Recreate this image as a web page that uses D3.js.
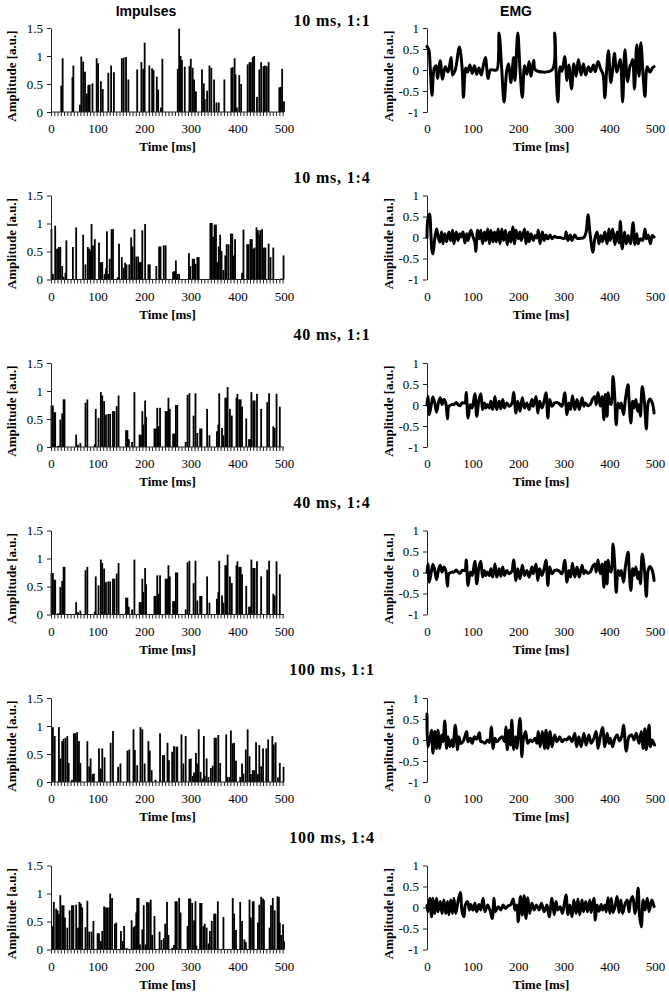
<!DOCTYPE html>
<html><head><meta charset="utf-8">
<script src="https://cdn.jsdelivr.net/npm/d3@7"></script>
<style>
html,body{margin:0;padding:0;background:#fff;}
svg{display:block;}
</style></head>
<body>
<svg id="chart" width="669" height="1000"></svg>
<script>
// ---------- DATA ----------
const rowTitles = ["10 ms, 1:1", "10 ms, 1:4", "40 ms, 1:1", "40 ms, 1:4", "100 ms, 1:1", "100 ms, 1:4"];
const columnTitles = ["Impulses", "EMG"];
const timeTicks = [0, 100, 200, 300, 400, 500];
const impTicks = [0, 0.5, 1, 1.5];
const emgTicks = [-1, -0.5, 0, 0.5, 1];
const xTitle = "Time [ms]";
const yTitle = "Amplitude [a.u.]";

// Impulses: [time ms, amplitude]
const imp10_11 = [[22,0.47],[25,0.96],[46,0.62],[48,0.83],[62,0.13],[65,0.99],[69,0.9],[73,0.72],[77,0.33],[80,0.48],[83,0.49],[89,0.51],[98,0.96],[101,0.87],[107,0.55],[111,0.41],[123,0.7],[129,0.83],[135,0.71],[152,0.96],[156,0.97],[161,0.98],[166,0.58],[185,0.76],[194,0.89],[198,0.77],[201,1.24],[211,0.83],[217,0.78],[220,0.75],[227,0.63],[230,0.4],[236,0.08],[239,0.95],[272,0.77],[275,1.49],[278,1.0],[281,0.93],[287,0.81],[297,0.82],[300,0.95],[304,0.79],[307,0.58],[311,0.37],[324,0.76],[328,0.51],[330,0.23],[335,0.38],[340,0.83],[344,0.79],[350,0.58],[355,0.17],[360,0.17],[372,0.58],[387,0.79],[390,0.8],[394,0.96],[396,0.67],[399,0.08],[404,0.66],[408,0.5],[422,0.85],[426,0.89],[429,0.89],[433,0.98],[436,1.0],[442,0.27],[447,0.76],[451,0.89],[456,0.82],[459,0.83],[463,0.82],[467,0.89],[490,0.44],[493,0.45],[496,0.77],[500,0.19]];
const imp10_14 = [[1,0.9],[4,0.1],[9,0.96],[13,0.55],[17,0.58],[20,0.58],[24,0.24],[27,0.05],[31,0.12],[33,0.7],[47,0.58],[54,0.93],[69,0.8],[74,0.27],[79,0.58],[82,0.55],[85,0.51],[87,0.99],[90,0.61],[94,0.72],[103,0.66],[107,0.31],[110,0.31],[115,0.1],[118,0.2],[120,0.86],[123,0.1],[126,0.37],[130,0.9],[133,0.9],[143,0.04],[146,0.64],[152,0.4],[156,0.21],[159,0.3],[162,0.27],[168,0.27],[172,0.75],[175,0.59],[179,0.9],[183,0.41],[187,0.41],[190,0.31],[193,0.31],[196,0.88],[202,0.99],[209,0.27],[212,0.27],[226,0.24],[232,0.59],[235,0.59],[242,0.61],[246,0.61],[262,0.14],[265,0.15],[268,0.34],[271,0.1],[275,0.1],[296,0.47],[299,0.24],[304,0.37],[307,0.37],[310,0.28],[314,0.4],[317,0.4],[342,1.01],[345,1.01],[348,0.76],[351,0.98],[354,0.98],[357,0.31],[360,0.59],[363,0.8],[366,0.51],[370,0.17],[374,0.43],[377,0.63],[381,0.63],[386,0.82],[389,0.82],[392,0.43],[395,0.72],[410,0.12],[413,0.89],[421,0.63],[424,0.63],[428,0.72],[431,0.72],[434,0.55],[437,0.57],[441,0.93],[444,0.88],[447,0.8],[449,0.88],[453,0.9],[457,0.57],[460,0.57],[467,0.64],[471,0.4],[477,0.57],[494,0.02],[499,0.43]];
const imp40 = [[1,0.74],[4,0.74],[7,0.62],[9,0.62],[15,0.02],[18,0.02],[20,0.49],[24,0.6],[27,0.85],[29,0.85],[54,0.22],[58,0.04],[63,0.07],[74,0.79],[78,0.85],[94,0.05],[96,0.68],[102,0.52],[107,0.98],[110,0.92],[114,0.82],[118,0.58],[123,0.59],[127,0.59],[133,0.64],[136,0.64],[141,0.73],[145,0.92],[161,0.3],[164,0.3],[167,0.14],[174,0.09],[179,0.98],[190,0.22],[193,0.22],[196,0.64],[198,0.4],[202,0.83],[204,0.54],[222,0.33],[225,0.33],[228,0.7],[231,0.37],[234,0.7],[246,0.64],[249,0.64],[252,0.88],[255,0.68],[262,0.24],[265,0.24],[268,0.75],[271,0.75],[289,0.09],[293,0.93],[297,0.96],[306,0.56],[310,0.96],[314,0.25],[320,0.33],[323,0.33],[335,0.68],[340,0.21],[356,0.28],[359,0.4],[361,0.96],[367,0.34],[370,0.21],[374,0.88],[376,0.88],[379,1.07],[384,0.68],[388,0.56],[398,0.88],[400,0.95],[404,0.85],[407,0.85],[410,0.72],[419,0.51],[425,0.14],[428,0.14],[430,0.98],[434,0.83],[437,0.83],[442,0.95],[451,0.68],[464,0.8],[468,0.96],[477,0.37],[480,0.34],[484,0.95],[491,0.72]];
const imp100_11 = [[4,0.98],[8,0.82],[17,0.98],[20,0.42],[24,0.73],[27,0.77],[31,0.79],[35,0.82],[38,0.34],[45,0.04],[49,0.87],[52,0.87],[56,0.89],[60,0.73],[63,0.34],[78,0.73],[82,0.28],[85,0.42],[89,0.14],[92,0.15],[103,0.6],[107,0.24],[110,0.6],[115,0.44],[128,0.7],[133,0.91],[144,0.27],[149,0.33],[164,0.56],[168,0.58],[177,0.94],[180,0.57],[185,0.3],[192,0.98],[196,0.94],[201,0.33],[209,0.73],[212,0.56],[216,0.21],[224,0.04],[234,0.87],[240,0.48],[243,0.48],[250,0.7],[253,0.39],[260,0.54],[264,0.64],[269,0.63],[271,0.63],[280,0.85],[284,0.33],[289,0.82],[297,0.41],[300,0.42],[304,0.11],[307,0.17],[311,0.52],[314,0.33],[317,0.94],[321,0.18],[325,0.06],[328,0.82],[330,0.11],[334,0.42],[338,0.09],[343,0.25],[347,0.29],[351,0.79],[354,0.79],[359,0.84],[363,0.34],[376,0.85],[379,0.09],[383,0.09],[386,0.92],[390,0.69],[393,0.7],[397,0.38],[406,0.09],[410,0.33],[413,0.15],[418,0.58],[422,0.94],[426,0.46],[429,0.14],[433,0.21],[436,0.21],[440,0.71],[444,0.14],[447,0.66],[451,0.28],[455,0.6],[462,0.6],[466,0.76],[475,0.82],[478,0.67],[482,0.71],[487,0.08],[491,0.34],[499,0.27]];
const imp100_14 = [[4,0.42],[6,0.85],[11,0.73],[14,0.7],[17,0.64],[20,0.97],[24,0.79],[27,0.79],[30,0.57],[35,0.39],[40,0.7],[45,0.79],[48,0.79],[54,0.8],[58,0.39],[61,0.85],[64,0.82],[67,0.75],[74,0.4],[78,0.87],[82,0.32],[87,0.32],[91,0.51],[100,0.29],[103,0.29],[107,0.15],[110,0.33],[114,0.77],[118,0.75],[121,0.75],[125,0.75],[127,1.0],[131,0.92],[137,0.46],[140,0.48],[150,0.33],[154,0.15],[157,0.42],[161,0.02],[164,0.02],[173,0.52],[177,0.4],[180,0.42],[183,0.66],[185,0.92],[188,0.92],[191,0.09],[196,0.36],[199,0.79],[203,0.09],[206,0.85],[210,0.84],[214,0.89],[217,0.26],[222,0.6],[233,0.32],[237,0.17],[242,0.2],[245,0.46],[249,0.85],[252,0.26],[260,0.03],[264,0.08],[267,0.86],[270,0.86],[275,0.92],[278,0.66],[293,0.42],[296,0.91],[299,0.91],[303,0.83],[307,0.52],[310,0.86],[312,0.07],[320,0.83],[323,0.83],[327,0.42],[330,0.46],[334,0.39],[338,0.11],[341,0.33],[345,0.51],[350,0.64],[353,0.64],[358,0.86],[370,0.58],[390,0.92],[393,0.64],[397,0.35],[406,0.85],[410,0.51],[415,0.18],[418,0.13],[426,0.89],[429,0.57],[433,0.86],[435,0.86],[444,0.48],[447,0.8],[451,0.94],[455,0.91],[457,0.88],[469,0.39],[472,0.79],[476,0.92],[480,0.7],[486,0.95],[489,0.94],[491,0.48],[494,0.26],[498,0.45],[500,0.15]];

// EMG: [time ms, amplitude]
const emg10_11 = [[0,0.56],[4,0.48],[7,0.08],[11,-0.6],[16,0.05],[20,0.1],[23,-0.2],[29,0.22],[34,-0.22],[40,0.08],[46,-0.05],[53,0.3],[56,-0.12],[61,-0.03],[64,0.1],[71,0.55],[77,0.05],[80,-0.65],[85,0.05],[89,-0.05],[94,0.12],[99,-0.08],[104,0.1],[109,-0.1],[114,0.05],[119,-0.12],[123,0.08],[128,0.3],[134,-0.2],[139,0.0],[146,0.0],[153,0.0],[158,0.88],[164,0.0],[169,-0.76],[175,0.0],[179,0.15],[184,-0.3],[190,0.3],[193,-0.25],[199,0.88],[204,0.0],[209,-0.65],[214,0.1],[219,-0.1],[224,0.2],[228,-0.15],[234,0.23],[238,0],[274,0],[280,0.88],[283,0],[287,-0.76],[292,0.08],[296,-0.03],[302,0.32],[307,-0.25],[311,0.12],[317,-0.45],[322,0.15],[327,-0.15],[332,0.25],[338,-0.12],[343,0.15],[348,-0.12],[354,0.08],[359,-0.04],[365,0.12],[369,-0.04],[375,0.2],[381,0.02],[386,-0.1],[390,-0.66],[394,0.0],[398,0.46],[403,-0.3],[408,0.1],[411,0.4],[416,-0.05],[420,0.1],[424,0.25],[429,-0.76],[434,0.48],[440,-0.28],[445,0.08],[448,0.15],[451,0.25],[455,-0.45],[460,0.6],[465,-0.15],[469,0.65],[474,-0.15],[478,-0.63],[483,0.08],[489,-0.05],[494,0.04],[498,0.08]];
const emg10_14 = [[0,0],[2,0.44],[6,0.56],[8,0.2],[11,-0.31],[13,-0.39],[17,-0.03],[21,0.2],[24,0.05],[28,-0.11],[32,0.13],[35,-0.15],[39,0.09],[43,-0.1],[48,0.13],[52,-0.07],[56,0.17],[59,-0.15],[64,0.13],[68,-0.07],[72,0.09],[75,0.01],[79,0.13],[83,-0.13],[87,0.09],[90,-0.07],[96,0.17],[101,0.01],[105,-0.11],[107,-0.33],[111,0.17],[115,-0.03],[118,0.17],[122,-0.15],[126,0.13],[129,-0.07],[133,0.2],[137,-0.15],[140,0.17],[145,-0.11],[148,0.13],[152,-0.1],[156,0.2],[160,-0.15],[164,0.2],[168,-0.07],[172,0.17],[176,-0.17],[181,0.13],[184,-0.11],[188,0.25],[192,-0.15],[195,0.17],[200,-0.03],[204,0.13],[207,-0.07],[214,0.2],[217,-0.15],[221,0.13],[224,-0.1],[228,0.09],[233,-0.07],[237,0.05],[241,-0.01],[244,0.17],[248,-0.15],[253,0.13],[257,-0.07],[261,0.06],[265,-0.03],[270,0.06],[274,-0.03],[280,0.03],[285,0.0],[292,0.0],[302,-0.02],[305,0.13],[309,-0.07],[314,0.06],[318,-0.07],[324,0.06],[329,-0.02],[336,-0.02],[344,0.0],[349,0.13],[353,0.54],[358,0.05],[364,-0.35],[368,-0.03],[373,0.13],[377,-0.15],[381,0.05],[385,-0.1],[390,0.13],[395,-0.15],[399,0.2],[402,-0.07],[407,0.2],[412,-0.17],[417,0.13],[421,-0.13],[424,0.38],[428,-0.27],[433,0.13],[437,-0.15],[441,0.05],[446,-0.15],[452,0.35],[456,-0.17],[460,0.09],[463,-0.15],[468,-0.03],[473,-0.07],[478,0.2],[481,-0.03],[485,0.06],[490,-0.15],[494,0.05],[498,0.01]];
const emg40 = [[0,0],[2,0.2],[5,-0.23],[10,0.05],[13,0.19],[17,0.05],[21,-0.17],[25,0.05],[29,0.17],[33,0.01],[37,0.13],[41,0.05],[45,-0.33],[48,-0.03],[54,0.01],[59,0.01],[64,0.06],[68,0.01],[72,-0.02],[77,0.05],[83,0.05],[86,0.3],[90,-0.31],[95,0.01],[99,-0.07],[105,0.27],[109,-0.27],[114,0.13],[118,0.27],[122,-0.11],[126,0.05],[129,-0.07],[133,0.01],[137,-0.07],[140,0.09],[144,-0.11],[149,0.2],[153,-0.11],[158,0.09],[162,-0.09],[166,0.13],[170,-0.07],[175,0.05],[180,-0.03],[186,0.03],[190,0.3],[195,-0.19],[199,0.09],[204,-0.15],[209,0.17],[214,-0.07],[219,0.05],[224,-0.11],[230,0.13],[233,-0.03],[239,0.2],[243,-0.19],[247,0.09],[252,-0.07],[256,0.05],[261,0.29],[265,-0.31],[269,0.13],[274,-0.03],[280,0.05],[285,0.06],[290,0.03],[296,-0.03],[302,0.29],[307,-0.23],[311,0.05],[315,-0.11],[319,0.22],[324,-0.11],[329,0.13],[334,-0.11],[340,0.17],[344,-0.03],[347,0.05],[353,-0.02],[358,0.01],[363,0.14],[368,0.2],[371,0.01],[375,0.3],[380,-0.03],[384,0.2],[388,-0.35],[391,0.25],[395,-0.27],[397,0.29],[401,0.05],[404,0.01],[408,0.68],[412,0.13],[415,-0.47],[419,0.05],[423,-0.07],[426,0.05],[431,-0.23],[435,0.13],[441,0.48],[443,0.13],[447,-0.43],[451,0.09],[454,-0.07],[458,0.13],[462,-0.15],[465,0.01],[468,-0.27],[472,0.44],[477,0.05],[481,-0.57],[485,0.05],[489,0.14],[494,0.05],[498,-0.19]];
const emg100_11 = [[0,0.62],[2,-0.16],[6,0.0],[10,0.23],[13,-0.31],[17,0.2],[21,-0.2],[24,0.23],[28,-0.2],[32,0.12],[35,-0.04],[39,0.45],[43,-0.2],[46,0.08],[50,-0.16],[54,0.0],[57,-0.16],[62,0.35],[67,-0.23],[70,0.08],[74,-0.08],[79,-0.04],[83,0.08],[87,0.2],[90,-0.04],[95,0.04],[99,-0.08],[104,0.08],[109,0.02],[115,0.17],[118,-0.04],[122,-0.04],[127,-0.08],[133,0.0],[137,-0.06],[141,0.31],[145,-0.2],[149,0.04],[153,-0.04],[160,0.04],[165,0.08],[170,-0.04],[173,0.31],[176,-0.23],[180,0.23],[183,-0.12],[186,0.47],[190,-0.23],[194,0.08],[197,-0.2],[204,0.51],[208,-0.4],[211,0.0],[216,0.2],[221,-0.08],[226,0.0],[231,-0.04],[237,0.04],[241,-0.08],[244,0.2],[248,-0.16],[253,0.2],[258,-0.2],[261,0.23],[265,-0.2],[270,0.2],[274,-0.16],[280,0.12],[285,-0.04],[291,0.08],[296,-0.04],[302,0.02],[307,0.0],[312,0.08],[318,-0.04],[324,0.16],[328,-0.16],[333,0.08],[338,-0.16],[344,0.16],[349,-0.12],[355,0.12],[360,-0.08],[366,0.04],[371,0.2],[375,-0.2],[380,0.08],[385,0.3],[390,-0.16],[395,0.16],[399,-0.08],[402,0.04],[407,-0.16],[412,0.04],[417,0.12],[422,-0.02],[427,0.08],[431,0.35],[437,-0.27],[443,0.08],[449,0.12],[454,0.0],[459,0.16],[465,-0.08],[470,0.2],[474,-0.2],[478,0.27],[481,-0.23],[487,0.35],[490,-0.16],[494,0.0],[499,-0.12]];
const emg100_14 = [[0,0.05],[2,-0.1],[6,0.22],[10,-0.22],[13,0.22],[17,-0.14],[21,0.22],[24,-0.1],[29,0.14],[33,-0.14],[37,0.18],[41,-0.14],[45,0.14],[48,-0.17],[52,0.18],[56,-0.14],[59,0.22],[63,-0.14],[68,0.14],[73,0.36],[77,-0.1],[81,-0.22],[84,0.06],[89,0.14],[93,-0.06],[96,0.07],[101,-0.06],[105,0.1],[109,-0.1],[114,0.07],[118,-0.06],[123,0.22],[127,-0.1],[133,0.06],[138,-0.06],[143,-0.26],[147,0.22],[150,-0.1],[156,0.02],[162,-0.06],[167,0.06],[172,-0.02],[178,0.04],[184,0.07],[189,0.2],[193,-0.06],[197,0.06],[200,-0.34],[205,0.26],[209,-0.18],[213,0.28],[217,-0.26],[221,0.23],[225,-0.14],[230,0.1],[235,-0.06],[240,0.06],[246,-0.06],[251,0.1],[257,-0.1],[263,0.06],[268,-0.22],[274,0.22],[279,-0.17],[283,0.14],[287,-0.06],[292,0.02],[297,-0.14],[302,0.15],[305,0.3],[309,-0.17],[313,0.06],[318,-0.22],[322,0.18],[327,-0.14],[331,0.2],[335,-0.17],[340,0.18],[343,-0.1],[348,0.14],[352,-0.1],[357,0.18],[360,-0.12],[366,0.22],[369,-0.3],[373,0.06],[377,-0.09],[382,0.07],[385,-0.06],[390,0.06],[393,-0.1],[397,0.23],[401,-0.14],[404,0.22],[408,-0.12],[413,0.06],[417,0.26],[421,-0.12],[425,0.18],[429,-0.14],[434,0.07],[439,0.18],[443,-0.1],[446,0.14],[451,0.26],[456,-0.14],[459,0.02],[463,0.46],[466,-0.18],[470,-0.46],[474,0.18],[478,-0.06],[483,0.22],[487,-0.1],[493,0.18],[498,0.02]];

const impulseSeries = [imp10_11, imp10_14, imp40, imp40, imp100_11, imp100_14];
const emgSeries = [emg10_11, emg10_14, emg40, emg40, emg100_11, emg100_14];

// ---------- LAYOUT ----------
const rowStep = 167.5, firstTop = 28, plotH = 84;
const leftX = [51, 284], rightX = [427, 655];
const titleBaselines = [26, 183, 340, 508, 675, 843];
const minorTickStep = 7;
const serif = "'Liberation Serif','Times New Roman',serif";
const sans = "'Liberation Sans',Arial,sans-serif";

const svg = d3.select("#chart");

// column titles
svg.append("text").attr("x", 146).attr("y", 16).attr("text-anchor","middle")
  .attr("font-family", sans).attr("font-weight","bold").attr("font-size",14).text(columnTitles[0]);
svg.append("text").attr("x", 516).attr("y", 16).attr("text-anchor","middle")
  .attr("font-family", sans).attr("font-weight","bold").attr("font-size",14).text(columnTitles[1]);

function styleAxis(g){
  g.selectAll("path.domain").attr("stroke","#222").attr("stroke-width",1);
  g.selectAll(".tick line").attr("stroke","#222");
  g.selectAll("text").attr("font-family", serif).attr("font-size",13).attr("fill","#000");
}

rowTitles.forEach((title, i) => {
  const top = firstTop + i*rowStep;
  const bottom = top + plotH;

  svg.append("text").attr("x", 332).attr("y", titleBaselines[i]).attr("text-anchor","middle")
    .attr("font-family", serif).attr("font-weight","bold").attr("font-size",16)
    .attr("letter-spacing","0.8px").text(title);

  // ---- Impulses panel ----
  const x = d3.scaleLinear().domain([0,500]).range(leftX);
  const y = d3.scaleLinear().domain([0,1.5]).range([bottom, top]);
  const gL = svg.append("g");

  gL.selectAll("rect").data(impulseSeries[i]).join("rect")
    .attr("x", d => x(d[0]) - 0.9).attr("width", 1.8)
    .attr("y", d => y(d[1])).attr("height", d => y(0) - y(d[1]))
    .attr("fill", "#000");

  const yAx = gL.append("g").attr("transform", `translate(${leftX[0]},0)`)
    .call(d3.axisLeft(y).tickValues(impTicks).tickFormat(d3.format("")).tickSize(4).tickSizeOuter(0).tickPadding(4));
  styleAxis(yAx);

  // baseline + minor ticks
  gL.append("line").attr("x1", leftX[0]).attr("x2", leftX[1]).attr("y1", y(0)).attr("y2", y(0))
    .attr("stroke","#222").attr("stroke-width",1);
  gL.append("g").selectAll("line").data(d3.range(0, 501, minorTickStep)).join("line")
    .attr("x1", d => x(d) + 0.5).attr("x2", d => x(d) + 0.5)
    .attr("y1", y(0)).attr("y2", y(0) + 4).attr("stroke","#222").attr("stroke-width",1);

  const xAxL = gL.append("g").attr("transform", `translate(0,${bottom})`)
    .call(d3.axisBottom(x).tickValues(timeTicks).tickSize(0).tickPadding(12));
  xAxL.select("path.domain").remove();
  styleAxis(xAxL);

  gL.append("text").attr("x", (leftX[0]+leftX[1])/2).attr("y", bottom + 39).attr("text-anchor","middle")
    .attr("font-family", serif).attr("font-weight","bold").attr("font-size",13).text(xTitle);
  gL.append("text").attr("transform", `translate(16,${top + 48}) rotate(-90)`).attr("text-anchor","middle")
    .attr("font-family", serif).attr("font-weight","bold").attr("font-size",13).text(yTitle);

  // ---- EMG panel ----
  const x2 = d3.scaleLinear().domain([0,500]).range(rightX);
  const y2 = d3.scaleLinear().domain([-1,1]).range([bottom, top]);
  const gR = svg.append("g");

  const yAx2 = gR.append("g").attr("transform", `translate(${rightX[0]},0)`)
    .call(d3.axisLeft(y2).tickValues(emgTicks).tickFormat(d3.format("")).tickSize(4).tickSizeOuter(0).tickPadding(4));
  styleAxis(yAx2);
  yAx2.selectAll("text").text(d => d < 0 ? "-" + Math.abs(d) : String(d));

  const line = d3.line().x(d => x2(d[0])).y(d => y2(d[1])).curve(d3.curveCatmullRom.alpha(0.5));
  gR.append("path").datum(emgSeries[i]).attr("d", line)
    .attr("fill","none").attr("stroke","#000").attr("stroke-width",3)
    .attr("stroke-linejoin","round").attr("stroke-linecap","round");

  const xAxR = gR.append("g").attr("transform", `translate(0,${bottom})`)
    .call(d3.axisBottom(x2).tickValues(timeTicks).tickSize(0).tickPadding(12));
  xAxR.select("path.domain").remove();
  styleAxis(xAxR);

  gR.append("text").attr("x", (rightX[0]+rightX[1])/2).attr("y", bottom + 39).attr("text-anchor","middle")
    .attr("font-family", serif).attr("font-weight","bold").attr("font-size",13).text(xTitle);
  gR.append("text").attr("transform", `translate(393,${top + 48}) rotate(-90)`).attr("text-anchor","middle")
    .attr("font-family", serif).attr("font-weight","bold").attr("font-size",13).text(yTitle);
});
</script>
</body></html>
